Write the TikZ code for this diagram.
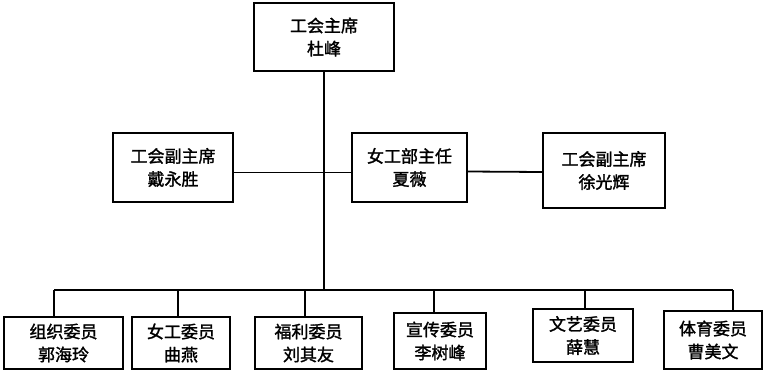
\documentclass[tikz,border=0pt]{standalone}
\usepackage{fontspec}
\newfontfamily\cjk[FakeBold=1.6]{Noto Sans CJK SC}
\usetikzlibrary{positioning}

\begin{document}
\begin{tikzpicture}[x=1pt, y=-1pt,
  box/.style={draw, line width=2.4pt, align=center, inner sep=0pt, font=\cjk\fontsize{17}{23}\selectfont},
  link/.style={line width=1.8pt}]
  \useasboundingbox (0,0) rectangle (768,372);
  % top
  \node[box, minimum width=140pt, minimum height=68pt] (chair) at (324,37) {工会主席\\杜峰};
  % middle row
  \node[box, minimum width=120pt, minimum height=69pt] (vpleft) at (173,167.5) {工会副主席\\戴永胜};
  \node[box, minimum width=115pt, minimum height=69pt] (women) at (409.5,167.5) {女工部主任\\夏薇};
  \node[box, minimum width=122pt, minimum height=75pt] (vpright) at (604,170.5) {工会副主席\\徐光辉};
  % committee members
  \node[box, minimum width=119pt, minimum height=52pt] (org) at (63.5,343) {组织委员\\郭海玲};
  \node[box, minimum width=98pt, minimum height=52pt] (wmem) at (181,343) {女工委员\\曲燕};
  \node[box, minimum width=107pt, minimum height=52pt] (welfare) at (308.5,343) {福利委员\\刘其友};
  \node[box, minimum width=92pt, minimum height=56pt] (promo) at (440,341) {宣传委员\\李树峰};
  \node[box, minimum width=100pt, minimum height=53pt] (arts) at (583,335.5) {文艺委员\\薛慧};
  \node[box, minimum width=98pt, minimum height=58pt] (sport) at (713,340) {体育委员\\曹美文};
  % bus taps
  \coordinate (t1) at (54,290);
  \coordinate (t2) at (178,290);
  \coordinate (t3) at (305,290);
  \coordinate (t4) at (434,290);
  \coordinate (t5) at (585,290);
  \coordinate (t6) at (733,290);
  \draw[link] (chair.south) -- (chair.south |- t1);
  \draw[link] (t1) -- (t6);
  \draw[link] (t1) -- (t1 |- org.north);
  \draw[link] (t2) -- (t2 |- wmem.north);
  \draw[link] (t3) -- (t3 |- welfare.north);
  \draw[link] (t4) -- (t4 |- promo.north);
  \draw[link] (t5) -- (t5 |- arts.north);
  \draw[link] (t6) -- (t6 |- sport.north);
  \draw[link] ([yshift=-5pt]vpleft.east) -- ([yshift=-5pt]women.west);
  \draw[link] ([yshift=-4pt]women.east) -- ([yshift=-1.5pt]vpright.west);
\end{tikzpicture}
\end{document}
